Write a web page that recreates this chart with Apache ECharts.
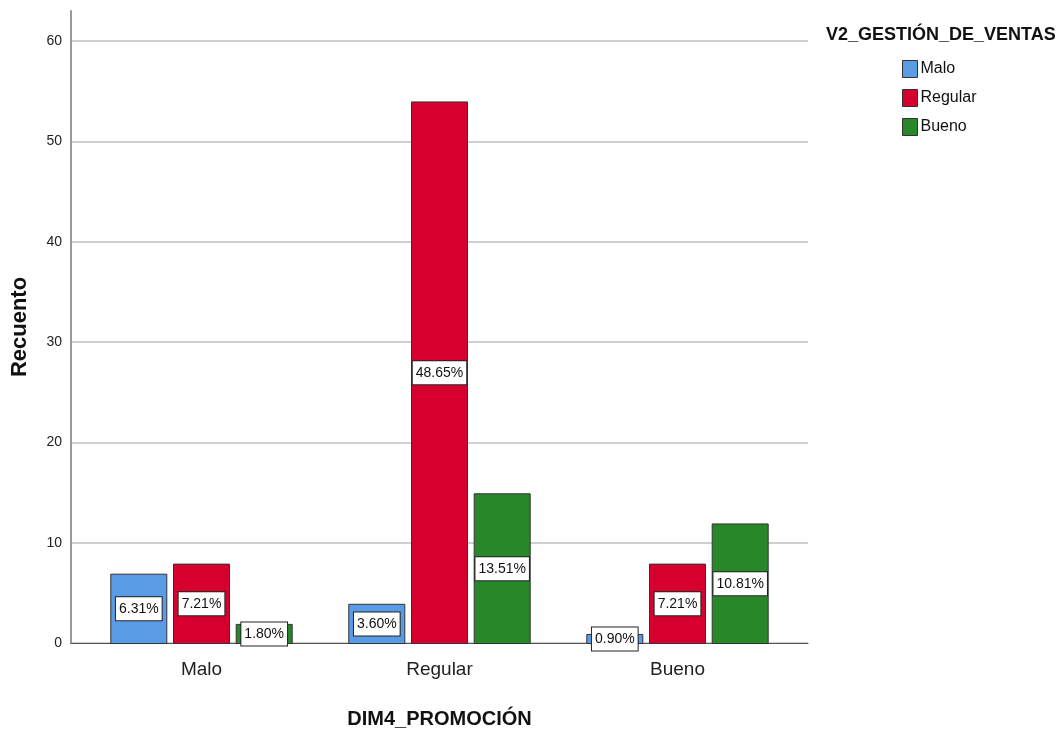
<!DOCTYPE html>
<html>
<head>
<meta charset="utf-8">
<title>DIM4_PROMOCIÓN</title>
<script src="https://cdn.jsdelivr.net/npm/echarts@6/dist/echarts.min.js"></script>
<style>
  html, body { margin: 0; padding: 0; background: #fff; }
  #chart { width: 1061px; height: 734px; }
</style>
</head>
<body>
<div id="chart"></div>
<script>
// Categories of DIM4_PROMOCIÓN and counts per V2_GESTIÓN_DE_VENTAS level
const categories = ['Malo', 'Regular', 'Bueno'];
const seriesNames = ['Malo', 'Regular', 'Bueno'];
const countsMalo = [7, 4, 1];
const countsRegular = [8, 54, 8];
const countsBueno = [2, 15, 12];
const yTicks = [0, 10, 20, 30, 40, 50, 60];

const seriesValues = [countsMalo, countsRegular, countsBueno];
const colors = ['#5a9be6', '#d6002f', '#288729'];
const total = seriesValues.flat().reduce((a, b) => a + b, 0);

const FONT = "'Liberation Sans', Arial, sans-serif";

const chart = echarts.init(document.getElementById('chart'), null, { renderer: 'canvas' });

// axis runs a little above the last gridline
const yMax = 63;
const tickStep = yTicks[1] - yTicks[0];

const series = seriesValues.map((vals, i) => ({
  name: seriesNames[i],
  type: 'bar',
  xAxisIndex: 1,
  yAxisIndex: 1,
  data: vals,
  barWidth: 57,
  barGap: '10%',
  itemStyle: { color: colors[i], borderColor: '#333', borderWidth: 1 },
  label: {
    show: true,
    position: 'inside',
    offset: [0, 2],
    formatter: p => (p.value / total * 100).toFixed(2) + '%',
    color: '#111',
    fontFamily: FONT,
    fontSize: 14,
    backgroundColor: '#fff',
    borderColor: '#222',
    borderWidth: 1,
    padding: [5, 3, 4, 3]
  },
  labelLayout: { hideOverlap: false },
  z: 3
}));

const option = {
  animation: false,
  backgroundColor: '#fff',
  title: {
    text: 'V2_GESTIÓN_DE_VENTAS',
    left: 821,
    top: 21,
    textStyle: { fontFamily: FONT, fontWeight: 'bold', fontSize: 18, color: '#111' }
  },
  legend: {
    orient: 'vertical',
    left: 897,
    top: 55,
    itemWidth: 15,
    itemHeight: 17,
    itemGap: 11,
    icon: 'rect',
    data: seriesNames.map((n, i) => ({
      name: n,
      itemStyle: { color: colors[i], borderColor: '#333', borderWidth: 1 }
    })),
    textStyle: { fontFamily: FONT, fontSize: 16, color: '#111', padding: [0, 0, 0, -2] }
  },
  grid: [
    { left: 71, right: 253, top: 11, bottom: 90 },
    { left: 82.5, right: 264.5, top: 11, bottom: 90 }
  ],
  xAxis: [
    {
      type: 'category',
      gridIndex: 0,
      data: [''],
      axisLine: { show: true, lineStyle: { color: '#555', width: 1 } },
      axisTick: { show: false },
      axisLabel: { show: false },
      name: 'DIM4_PROMOCIÓN',
      nameLocation: 'middle',
      nameGap: 66,
      nameTextStyle: { fontFamily: FONT, fontWeight: 'bold', fontSize: 20, color: '#111' }
    },
    {
      type: 'category',
      gridIndex: 1,
      data: categories,
      axisLine: { show: false },
      axisTick: { show: false },
      axisLabel: { fontFamily: FONT, fontSize: 19, color: '#222', margin: 16 }
    }
  ],
  yAxis: [
    {
      type: 'value',
      gridIndex: 0,
      min: yTicks[0],
      max: yMax,
      interval: tickStep,
      axisLine: { show: true, lineStyle: { color: '#999', width: 2 } },
      axisTick: { show: false },
      axisLabel: { fontFamily: FONT, fontSize: 14, color: '#222', margin: 9, showMaxLabel: false },
      splitLine: { show: true, showMaxLine: false, lineStyle: { color: '#cfcfcf', width: 2 } },
      name: 'Recuento',
      nameLocation: 'middle',
      nameGap: 40,
      nameRotate: 90,
      nameTextStyle: { fontFamily: FONT, fontWeight: 'bold', fontSize: 22, color: '#111' }
    },
    {
      type: 'value',
      gridIndex: 1,
      min: yTicks[0],
      max: yMax,
      interval: tickStep,
      show: false,
      splitLine: { show: false }
    }
  ],
  series: series
};

chart.setOption(option);
</script>
</body>
</html>
